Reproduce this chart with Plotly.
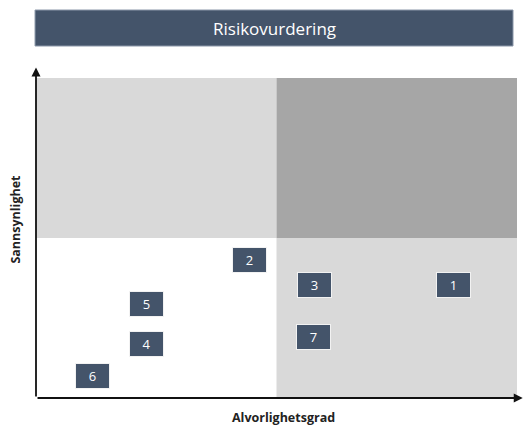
import plotly.graph_objects as go

# Data
risk_ids = ["1", "2", "3", "4", "5", "6", "7"]
severity = [8.67, 4.43, 5.79, 2.29, 2.29, 1.17, 5.76]
probability = [3.52, 4.30, 3.52, 1.69, 2.94, 0.69, 1.92]

title_text = "Risikovurdering"
x_label = "Alvorlighetsgrad"
y_label = "Sannsynlighet"

DARK = "#44546A"
LIGHT = "#D9D9D9"
MID = "#A6A6A6"
FONT = "Open Sans"

fig = go.Figure()

# invisible trace to establish axes
fig.add_trace(go.Scatter(x=severity, y=probability, mode="markers",
                         marker=dict(opacity=0), hoverinfo="skip", showlegend=False))

shapes = [
    dict(type="rect", xref="x", yref="y", x0=0, x1=5, y0=5, y1=10, fillcolor=LIGHT, line=dict(width=0), layer="below"),
    dict(type="rect", xref="x", yref="y", x0=5, x1=10, y0=5, y1=10, fillcolor=MID, line=dict(width=0), layer="below"),
    dict(type="rect", xref="x", yref="y", x0=5, x1=10, y0=0, y1=5, fillcolor=LIGHT, line=dict(width=0), layer="below"),
    # title bar
    dict(type="rect", xref="paper", yref="paper", x0=-0.002, x1=0.9917, y0=1.1, y1=1.2125,
         fillcolor=DARK, line=dict(color="#8A96A8", width=1)),
]

annotations = []
for rid, sx, py in zip(risk_ids, severity, probability):
    annotations.append(dict(x=sx, y=py, xref="x", yref="y", text=rid, showarrow=False,
                            width=33, height=24, bgcolor=DARK, bordercolor="#F2F2F2", borderwidth=1,
                            borderpad=0, font=dict(color="white", size=13, family=FONT)))

# axis arrows
annotations.append(dict(x=0, y=10.33, ax=0, ay=0, xref="x", yref="y", axref="x", ayref="y",
                        text="", showarrow=True, arrowhead=2, arrowsize=1, arrowwidth=1.8, arrowcolor="#111111"))
annotations.append(dict(x=10.12, y=0, ax=0, ay=0, xref="x", yref="y", axref="x", ayref="y",
                        text="", showarrow=True, arrowhead=2, arrowsize=1, arrowwidth=1.8, arrowcolor="#111111"))

# title text
annotations.append(dict(x=0.495, y=1.156, xref="paper", yref="paper", text=title_text, showarrow=False,
                        font=dict(color="white", size=17, family=FONT), xanchor="center", yanchor="middle"))
# axis labels
annotations.append(dict(x=0.515, y=-0.06, xref="paper", yref="paper", text="<b>" + x_label + "</b>",
                        showarrow=False, font=dict(color="#222222", size=12.5, family=FONT),
                        xanchor="center", yanchor="middle"))
annotations.append(dict(x=-0.042, y=0.56, xref="paper", yref="paper", text="<b>" + y_label + "</b>",
                        showarrow=False, textangle=-90, font=dict(color="#222222", size=12.5, family=FONT),
                        xanchor="center", yanchor="middle"))

fig.update_layout(
    width=527, height=429,
    margin=dict(l=36, r=10, t=78, b=31),
    paper_bgcolor="white", plot_bgcolor="white",
    xaxis=dict(range=[0, 10], showgrid=False, zeroline=False, showticklabels=False, ticks="",
               showline=False, fixedrange=True),
    yaxis=dict(range=[0, 10], showgrid=False, zeroline=False, showticklabels=False, ticks="",
               showline=False, fixedrange=True),
    shapes=shapes,
    annotations=annotations,
    showlegend=False,
)

fig.write_html("out.html", config={"displayModeBar": False},
               post_script="document.body.style.margin='0';document.body.style.overflow='hidden';")
